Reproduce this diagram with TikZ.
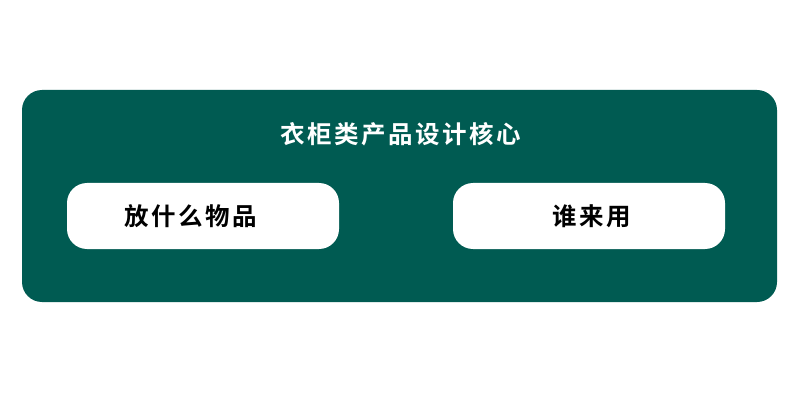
\documentclass[tikz,border=0pt]{standalone}
\usepackage{fontspec}
\newfontfamily\cjkb[LetterSpace=10]{Noto Sans CJK SC Bold}
\definecolor{dgreen}{HTML}{005B52}
\tikzset{
  panel/.style={fill=dgreen, draw=none, rounded corners=20pt},
  pill/.style={fill=white, draw=none, rounded corners=20pt},
  ttl/.style={text=white, font=\cjkb\fontsize{24.5pt}{24.5pt}\selectfont, inner sep=0pt},
  lbl/.style={text=black, font=\cjkb\fontsize{24.5pt}{24.5pt}\selectfont, inner sep=0pt}
}
\begin{document}
\begin{tikzpicture}[x=1pt,y=-1pt]
\useasboundingbox (0,0) rectangle (800,406);
\fill[white] (0,0) rectangle (800,406);
\path[panel] (22,90) rectangle (777,302);
\path[pill] (67,183) rectangle (339,249);
\path[pill] (453,183) rectangle (725,249);
\node[ttl] (title) at (401,134) {衣柜类产品设计核心};
\node[lbl] (left) at (191,216) {放什么物品};
\node[lbl] (right) at (592,216) {谁来用};
\end{tikzpicture}
\end{document}
